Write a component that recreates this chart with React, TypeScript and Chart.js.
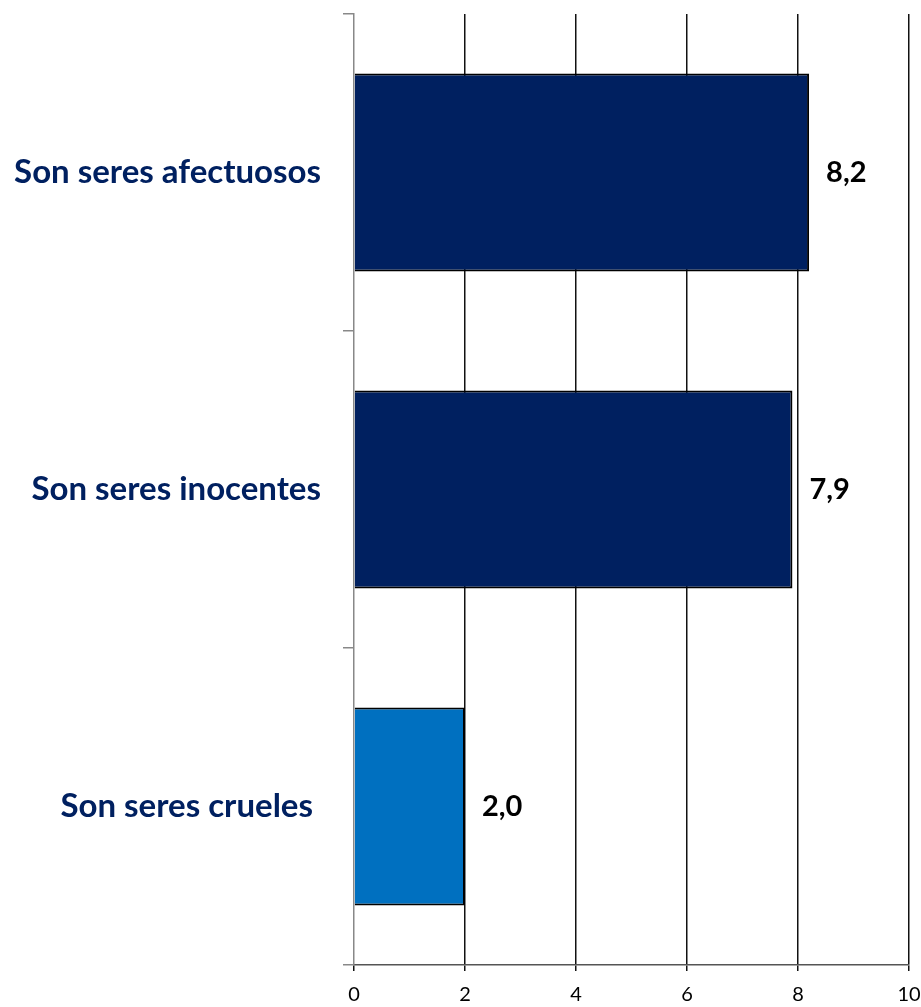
import React, { useEffect, useRef } from "react";
import { Chart, registerables } from "chart.js";

Chart.register(...registerables);

const categories = ["Son seres afectuosos", "Son seres inocentes", "Son seres crueles "];
const values = [8.2, 7.9, 2.0];
const barColors = ["#002060", "#002060", "#0070C0"];
const xTicks = [0, 2, 4, 6, 8, 10];

const valueLabels = {
  id: "valueLabels",
  afterDatasetsDraw(chart: any) {
    const ctx = chart.ctx;
    const meta = chart.getDatasetMeta(0);
    ctx.save();
    ctx.font = "bold 29px Lato";
    ctx.fillStyle = "#000";
    ctx.textAlign = "left";
    ctx.textBaseline = "middle";
    meta.data.forEach((bar: any, i: number) => {
      const txt = values[i].toFixed(1).replace(".", ",");
      ctx.fillText(txt, bar.x + 17, bar.y);
    });
    ctx.restore();
  },
};

export default function App() {
  const ref = useRef<HTMLCanvasElement>(null);
  useEffect(() => {
    const chart = new Chart(ref.current!, {
      type: "bar",
      data: {
        labels: categories,
        datasets: [
          {
            data: values,
            backgroundColor: barColors,
            borderColor: "#000",
            borderWidth: 2,
            categoryPercentage: 1,
            barPercentage: 0.625,
          },
        ],
      },
      options: {
        indexAxis: "y",
        animation: false,
        responsive: false,
        layout: { padding: { top: 14, right: 12, left: 0, bottom: 0 } },
        plugins: { legend: { display: false }, tooltip: { enabled: false } },
        scales: {
          x: {
            min: 0,
            max: 10,
            afterBuildTicks: (scale: any) => {
              scale.ticks = xTicks.map((v) => ({ value: v }));
            },
            afterFit: (scale: any) => {
              scale.height = 42;
              scale.paddingLeft = 0;
              scale.paddingRight = 0;
            },
            grid: {
              color: (c: any) => (c.tick && c.tick.value === 0 ? "rgba(0,0,0,0)" : "#111"),
              lineWidth: 1.5,
              tickLength: 6,
              tickColor: "#111",
            },
            border: { color: "#555", width: 1.5 },
            ticks: {
              color: "#000",
              font: { family: "Lato", size: 20 },
              padding: 12,
            },
          },
          y: {
            afterFit: (scale: any) => {
              scale.width = 354;
              scale.paddingTop = 0;
              scale.paddingBottom = 0;
            },
            grid: {
              drawOnChartArea: false,
              drawTicks: true,
              tickLength: 11,
              tickColor: "#888",
              lineWidth: 1.5,
            },
            border: { color: "#888", width: 1.5 },
            ticks: {
              color: "#002060",
              font: { family: "Lato", size: 33, weight: "bold" },
              padding: 22,
            },
          },
        },
      },
      plugins: [valueLabels],
    });
    return () => chart.destroy();
  }, []);
  return (
    <div style={{ position: "fixed", left: 0, top: 0, width: 921, height: 1007, background: "#fff" }}>
      <canvas ref={ref} width={921} height={1007} style={{ width: 921, height: 1007 }} />
    </div>
  );
}
